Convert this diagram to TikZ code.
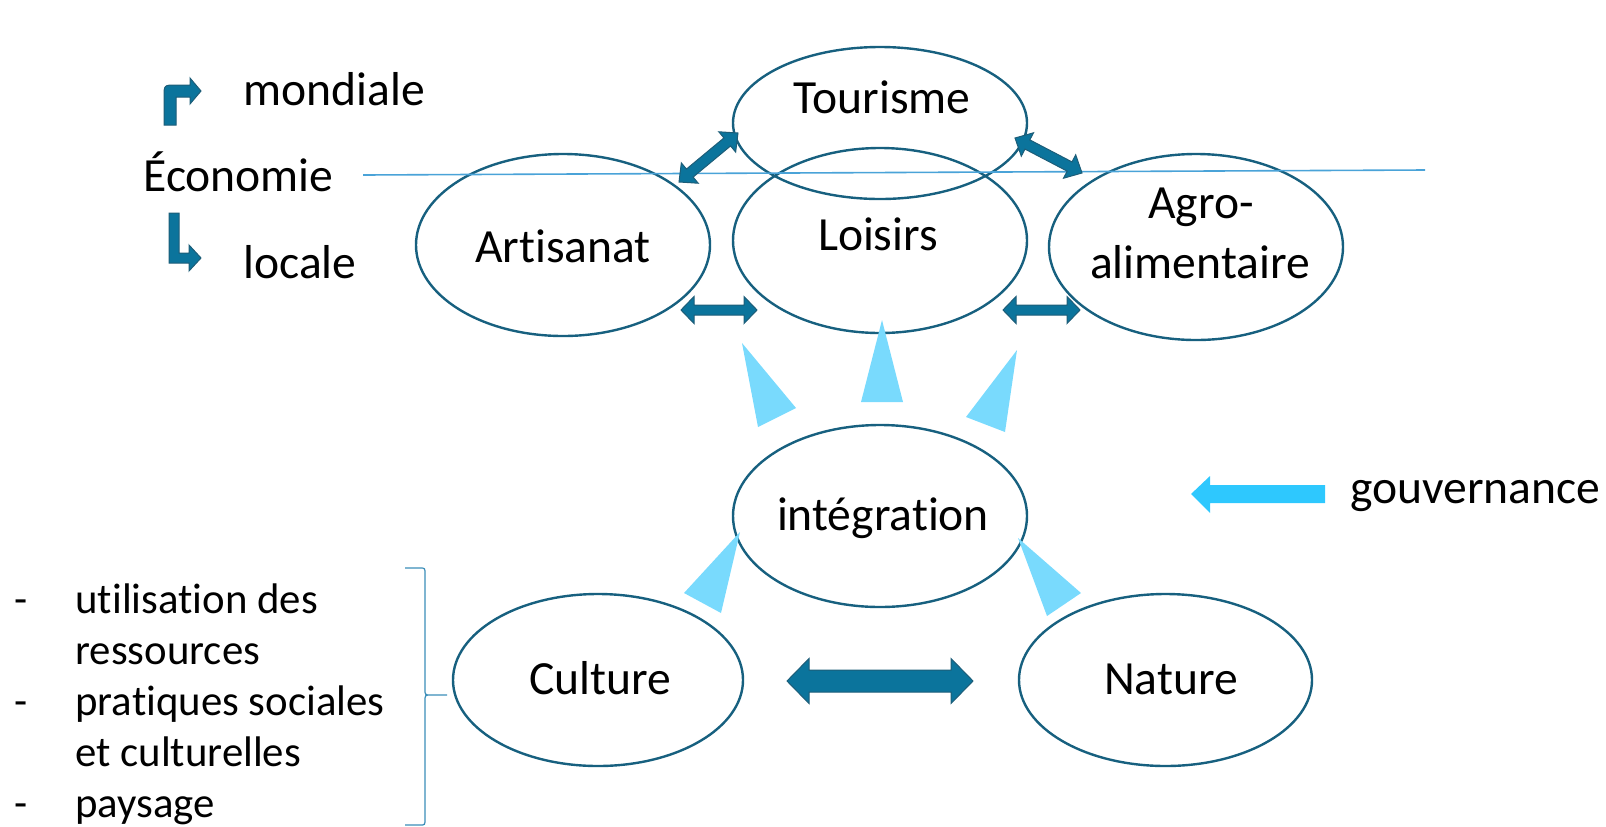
\documentclass[tikz,border=0pt]{standalone}
\usepackage{fontspec}
\setmainfont{Carlito}[Ligatures={NoCommon}]
\usetikzlibrary{shapes.geometric,calc}
\definecolor{eline}{HTML}{17607F}
\definecolor{afill}{HTML}{0B749C}
\definecolor{aline}{HTML}{1D5D78}
\definecolor{tri}{HTML}{79DAFD}
\definecolor{gov}{HTML}{2EC8FE}
\definecolor{hline}{HTML}{4AA3D8}
\definecolor{brc}{HTML}{3A8DB8}
\tikzset{
  oval/.style={ellipse, draw=eline, line width=1.2pt, inner sep=0pt},
  lbl/.style={font=\fontsize{23.8}{28}\selectfont, inner sep=0pt, anchor=base},
  lbw/.style={lbl, anchor=base west},
  lst/.style={font=\fontsize{21.4}{26}\selectfont, inner sep=0pt, anchor=base west},
  blockarr/.style={fill=afill, draw=aline, line width=0.5pt, line join=miter},
  wedge/.style={fill=tri, draw=none},
}
\newcommand\dblarr[5]{%
 \filldraw[blockarr] (#1)
   -- ($(#1)!#5!(#2)!#4!90:(#2)$)
   -- ($(#1)!#5!(#2)!#3!90:(#2)$)
   -- ($(#2)!#5!(#1)!#3!-90:(#1)$)
   -- ($(#2)!#5!(#1)!#4!-90:(#1)$)
   -- (#2)
   -- ($(#2)!#5!(#1)!#4!90:(#1)$)
   -- ($(#2)!#5!(#1)!#3!90:(#1)$)
   -- ($(#1)!#5!(#2)!#3!-90:(#2)$)
   -- ($(#1)!#5!(#2)!#4!-90:(#2)$)
   -- cycle;}
\begin{document}
\begin{tikzpicture}[x=0.5pt,y=-0.5pt]
\useasboundingbox (0,0) rectangle (1606,826);

% ellipses
\node[oval, minimum width=147pt, minimum height=76pt] (tour) at (880,123) {};
\node[oval, minimum width=147pt, minimum height=92.5pt] (lois) at (880,240.5) {};
\node[oval, minimum width=147pt, minimum height=91pt] (arti) at (563,245) {};
\node[oval, minimum width=147pt, minimum height=93pt] (agro) at (1196,247) {};
\node[oval, minimum width=147pt, minimum height=91pt] (inte) at (880,516) {};
\node[oval, minimum width=145pt, minimum height=86pt] (cult) at (598,680) {};
\node[oval, minimum width=146.5pt, minimum height=86pt] (natu) at (1165.5,680) {};

% labels
\node[lbl] (tTour) at (882,113) {Tourisme};
\node[lbl] (tLois) at (878,250) {Loisirs};
\node[lbl] (tArti) at (563,262) {Artisanat};
\node[lbl] (tAgro1) at (1201,218) {Agro-};
\node[lbl] (tAgro2) at (1200,278) {alimentaire};
\node[lbl] (tInte) at (883,530) {intégration};
\node[lbl] (tCult) at (600,694) {Culture};
\node[lbl] (tNatu) at (1171,694) {Nature};

\node[lbw] (tMond) at (243,105) {mondiale};
\node[lbw] (tEco) at (143,191) {Économie};
\node[lbw] (tLoc) at (243,278) {locale};
\node[lbw] (tGov) at (1350,503) {gouvernance};

\foreach \yy/\nm in {613/d1,715/d2,817/d3}{\node[lst] (\nm) at (14,\yy) {-};}
\node[lst] (l1) at (75,613) {utilisation des};
\node[lst] (l2) at (75,664) {ressources};
\node[lst] (l3) at (75,715) {pratiques sociales};
\node[lst] (l4) at (75,766) {et culturelles};
\node[lst] (l5) at (75,817) {paysage};

% horizontal economy line
\coordinate (hl1) at (363,175);
\coordinate (hl2) at (1425,170);
\draw[hline, line width=0.8pt] (hl1) -- (hl2);

% double arrows
\coordinate (ta1) at (679,182); \coordinate (ta2) at (738,133);
\coordinate (tg1) at (1015,138); \coordinate (tg2) at (1082,173);
\coordinate (al1) at (681,310); \coordinate (al2) at (757,310);
\coordinate (lg1) at (1003,310); \coordinate (lg2) at (1080,310);
\coordinate (cn1) at (787,681); \coordinate (cn2) at (973,681);
\dblarr{ta1}{ta2}{2.6pt}{6.6pt}{7pt}
\dblarr{tg1}{tg2}{2.6pt}{6.6pt}{7pt}
\dblarr{al1}{al2}{2.5pt}{6.75pt}{6.5pt}
\dblarr{lg1}{lg2}{2.5pt}{6.75pt}{6.5pt}
\dblarr{cn1}{cn2}{5.5pt}{11.25pt}{11pt}

% bent arrows
\filldraw[blockarr] (164,125) -- (164,97) .. controls (164,85) .. (176,85) -- (190,85) -- (190,78)
  -- (201,91) -- (190,104) -- (190,97) -- (176,97) -- (176,125) -- cycle;
\filldraw[blockarr] (169,213) -- (169,263) -- (189,263) -- (189,271) -- (201,258)
  -- (189,245) -- (189,253) -- (179,253) -- (179,213) -- cycle;

% wedges
\fill[wedge] (742,343) -- (796,408) -- (758,427) -- cycle;
\fill[wedge] (882,320) -- (861,402) -- (903,402) -- cycle;
\fill[wedge] (1017,350) -- (966,417) -- (1005,432) -- cycle;
\fill[wedge] (740,532) -- (684,593) -- (721,613) -- cycle;
\fill[wedge] (1018,538) -- (1081,593) -- (1047,616) -- cycle;

% gouvernance arrow
\fill[gov] (1191,494) -- (1210,476) -- (1210,485) -- (1325,485) -- (1325,503)
  -- (1210,503) -- (1210,513) -- cycle;

% brace
\draw[brc, line width=0.6pt] (405,568) -- (420,568) .. controls (425,568) .. (425,574)
  -- (425,689) .. controls (425,695) .. (431,695) -- (447,695)
  (431,695) .. controls (425,695) .. (425,701) -- (425,819) .. controls (425,825) .. (420,825) -- (405,825);
\end{tikzpicture}
\end{document}
